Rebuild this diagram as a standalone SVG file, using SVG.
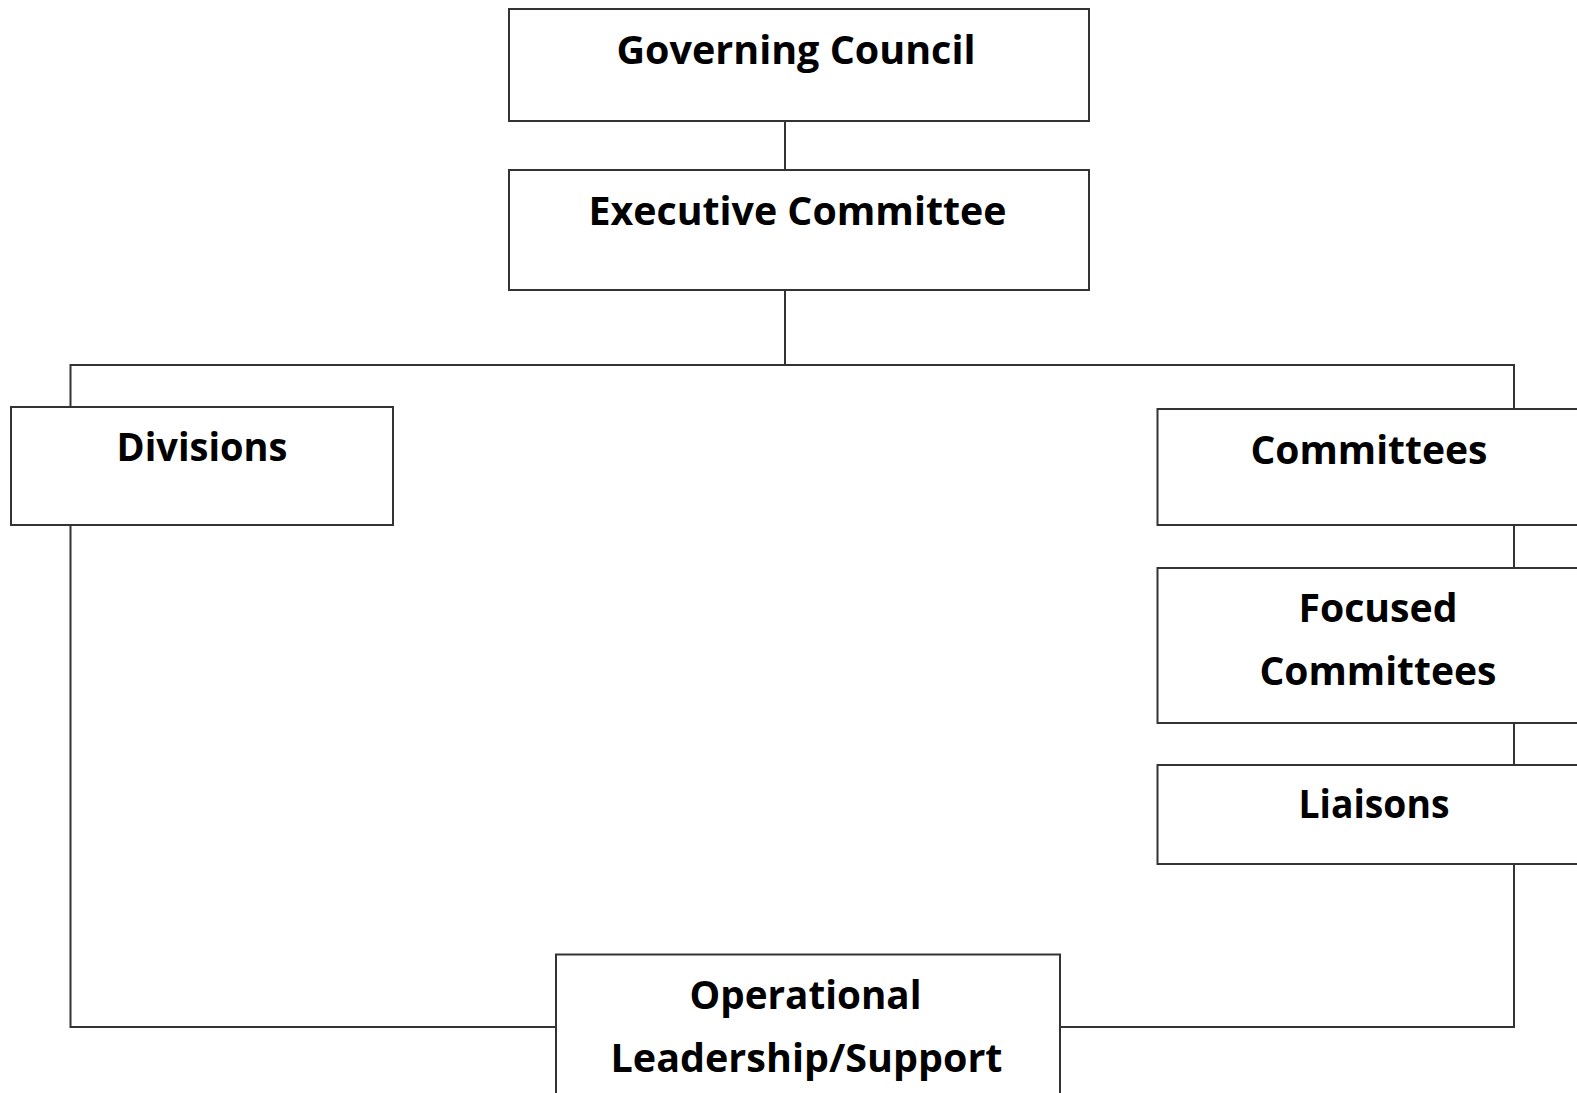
<svg xmlns="http://www.w3.org/2000/svg" width="1577" height="1093" viewBox="0 0 1577 1093">
<style>
.box{fill:#fff;stroke:#333;stroke-width:2}
.ln{fill:none;stroke:#333;stroke-width:2}
.t{font-family:"Open Sans","Noto Sans","Liberation Sans",sans-serif;font-weight:bold;font-size:40px;fill:#000;text-anchor:middle}
</style>
<rect width="1577" height="1093" fill="#fff"/>
<g id="connectors">
<line class="ln" x1="785" y1="121" x2="785" y2="170"/>
<line class="ln" x1="785" y1="290" x2="785" y2="365"/>
<polyline class="ln" points="70.5,407 70.5,365 1514,365 1514,409"/>
<line class="ln" x1="1514" y1="525" x2="1514" y2="568"/>
<line class="ln" x1="1514" y1="723" x2="1514" y2="765"/>
<polyline class="ln" points="1514,864 1514,1027 1060,1027"/>
<polyline class="ln" points="70.5,525 70.5,1027 556,1027"/>
</g>
<g id="governing-council">
<rect class="box" x="509" y="9" width="580" height="112"/>
<text class="t" x="796" y="63.5" textLength="359" lengthAdjust="spacingAndGlyphs">Governing Council</text>
</g>
<g id="executive-committee">
<rect class="box" x="509" y="170" width="580" height="120"/>
<text class="t" x="797.5" y="224.5" textLength="418" lengthAdjust="spacingAndGlyphs">Executive Committee</text>
</g>
<g id="divisions">
<rect class="box" x="11" y="407" width="382" height="118"/>
<text class="t" x="202" y="460.5" textLength="171" lengthAdjust="spacingAndGlyphs">Divisions</text>
</g>
<g id="committees">
<rect class="box" x="1157.5" y="409" width="440" height="116"/>
<text class="t" x="1369" y="463.5" textLength="237" lengthAdjust="spacingAndGlyphs">Committees</text>
</g>
<g id="focused-committees">
<rect class="box" x="1157.5" y="568" width="440" height="155"/>
<text class="t" x="1378" y="621.5" textLength="159" lengthAdjust="spacingAndGlyphs">Focused</text>
<text class="t" x="1378" y="685" textLength="237" lengthAdjust="spacingAndGlyphs">Committees</text>
</g>
<g id="liaisons">
<rect class="box" x="1157.5" y="765" width="440" height="99"/>
<text class="t" x="1374" y="817.5" textLength="151" lengthAdjust="spacingAndGlyphs">Liaisons</text>
</g>
<g id="operational-leadership-support">
<rect class="box" x="556" y="954.5" width="504" height="160"/>
<text class="t" x="805.5" y="1008.5" textLength="232" lengthAdjust="spacingAndGlyphs">Operational</text>
<text class="t" x="806.5" y="1072" textLength="392" lengthAdjust="spacingAndGlyphs">Leadership/Support</text>
</g>
</svg>
